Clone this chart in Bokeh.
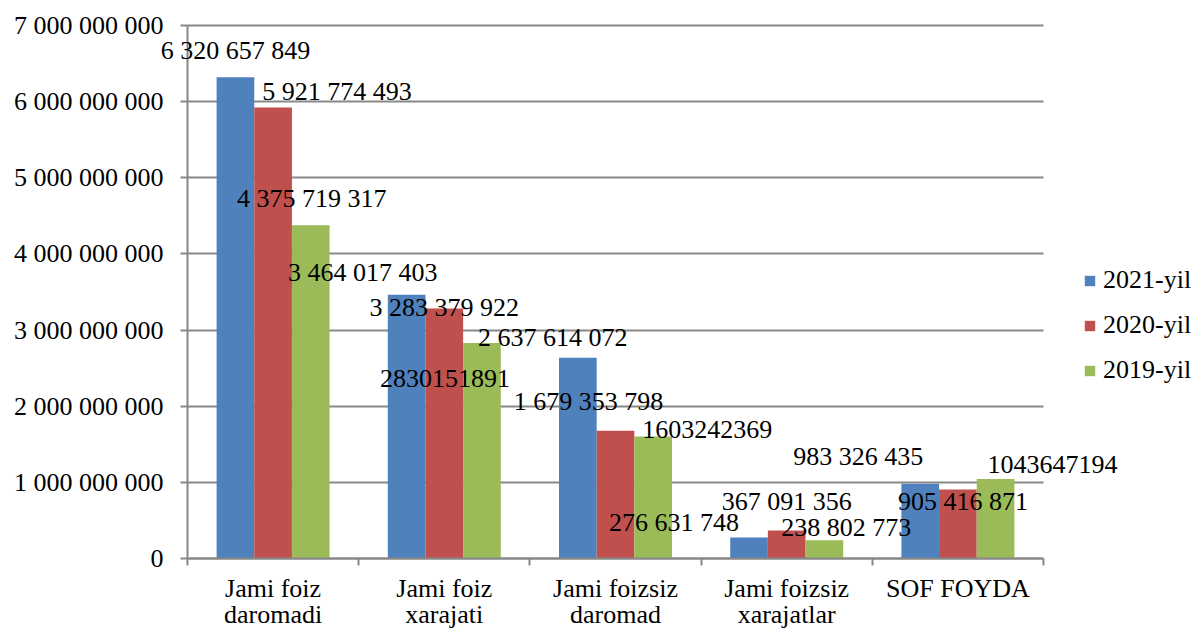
from bokeh.plotting import figure
from bokeh.models import (ColumnDataSource, FixedTicker, Range1d, LabelSet, Legend, LinearAxis)
from bokeh.transform import dodge
from bokeh.embed import file_html
from bokeh.resources import INLINE

# ---------------- data ----------------
categories = ["Jami foiz\ndaromadi", "Jami foiz\nxarajati", "Jami foizsiz\ndaromad",
              "Jami foizsiz\nxarajatlar", "SOF FOYDA"]
series_names = ["2021-yil", "2020-yil", "2019-yil"]
v2021 = [6320657849, 3464017403, 2637614072, 276631748, 983326435]
v2020 = [5921774493, 3283379922, 1679353798, 367091356, 905416871]
v2019 = [4375719317, 2830151891, 1603242369, 238802773, 1043647194]
t2021 = ["6 320 657 849", "3 464 017 403", "2 637 614 072", "276 631 748", "983 326 435"]
t2020 = ["5 921 774 493", "3 283 379 922", "1 679 353 798", "367 091 356", "905 416 871"]
t2019 = ["4 375 719 317", "2830151891", "1603242369", "238 802 773", "1043647194"]
y_ticks = [0, 1000000000, 2000000000, 3000000000, 4000000000, 5000000000, 6000000000, 7000000000]
y_tick_labels = ["0", "1 000 000 000", "2 000 000 000", "3 000 000 000", "4 000 000 000",
                 "5 000 000 000", "6 000 000 000", "7 000 000 000"]

# ---------------- styling / placement (not data) ----------------
colors = ["#4F81BD", "#C0504D", "#9BBB59"]
bar_offsets = [-0.22, 0.0, 0.22]
# pixel offsets of the (hand-placed) data labels, per series
label_dx = [[0, -44, -25, -75, -62],
            [64, 0, -27, 0, 5],
            [1, -37, 54, 22, 57]]
label_dy = [[27, 22, 20, 15, 27],
            [16, 1, 29, 29, -12],
            [27, -35, 7, 13, 15]]

FONT = "Liberation Serif"
FS = "26px"
GRID = "#888888"

# layout in pixels: visible plot area 187..1043 (x), 25..558 (y) on a 1195 x 630 canvas
W, H, PLOT_L, PLOT_R, PLOT_T, PLOT_B = 1195, 630, 187, 1043, 25, 558
n = len(categories)
cw = (PLOT_R - PLOT_L) / n
x_lo = -0.5 - PLOT_L / cw
x_hi = n - 0.5 + (W - PLOT_R) / cw
y_top = y_ticks[-1]
per_px = y_top / (PLOT_B - PLOT_T)
y_hi = PLOT_B * per_px
y_lo = -(H - PLOT_B) * per_px

idx = list(range(n))
values = [v2021, v2020, v2019]
texts = [t2021, t2020, t2019]

p = figure(frame_width=W, frame_height=H, output_backend="svg", toolbar_location=None,
           x_range=Range1d(x_lo, x_hi), y_range=Range1d(y_lo, y_hi),
           x_axis_location=None, y_axis_location=None,
           min_border_left=0, min_border_top=0, min_border_right=0, min_border_bottom=0)
p.outline_line_color = None
p.background_fill_color = "white"
p.border_fill_color = "white"

items = []
for s in range(3):
    src = ColumnDataSource(dict(idx=idx, top=values[s], text=texts[s],
                                dx=label_dx[s], dy=label_dy[s]))
    r = p.vbar(x=dodge("idx", bar_offsets[s]), top="top", bottom=0, width=0.22, source=src,
               fill_color=colors[s], line_color=None)
    items.append((series_names[s], [r]))
    lbl = LabelSet(x=dodge("idx", bar_offsets[s]), y="top", text="text", source=src,
                   x_offset="dx", y_offset="dy", text_align="center", text_baseline="middle",
                   text_font=FONT, text_font_size=FS, text_color="black")
    p.add_layout(lbl)

# x axis, fixed at y = 0
xax = LinearAxis(fixed_location=0, bounds=(-0.5, n - 0.5))
xax.ticker = FixedTicker(ticks=idx, minor_ticks=[i - 0.5 for i in range(n + 1)])
xax.major_label_overrides = {i: c for i, c in zip(idx, categories)}
xax.major_tick_line_color = None
xax.minor_tick_out = 7
xax.minor_tick_in = 0
xax.minor_tick_line_color = GRID
xax.minor_tick_line_width = 2
xax.axis_line_color = GRID
xax.axis_line_width = 2
xax.major_label_text_font = FONT
xax.major_label_text_font_size = FS
xax.major_label_text_color = "black"
xax.major_label_text_line_height = 0.93
xax.major_label_standoff = 8
p.add_layout(xax, "below")

# y axis, fixed at the left edge of the category area
yax = LinearAxis(fixed_location=-0.5, bounds=(0, y_top))
yax.ticker = FixedTicker(ticks=y_ticks, minor_ticks=[])
yax.major_label_overrides = {t: l for t, l in zip(y_ticks, y_tick_labels)}
yax.major_tick_out = 7
yax.major_tick_in = 0
yax.major_tick_line_color = GRID
yax.major_tick_line_width = 2
yax.minor_tick_line_color = None
yax.axis_line_color = GRID
yax.axis_line_width = 2
yax.major_label_text_font = FONT
yax.major_label_text_font_size = FS
yax.major_label_text_color = "black"
yax.major_label_standoff = 17
p.add_layout(yax, "left")

p.xgrid.grid_line_color = None
p.ygrid.grid_line_color = GRID
p.ygrid.grid_line_width = 2
p.ygrid.ticker = FixedTicker(ticks=y_ticks, minor_ticks=[])
p.ygrid.cross_bounds = (-0.5, n - 0.5)

# legend
lg = Legend(items=items, location=(1083, 173 + H - PLOT_B))
lg.label_text_font = FONT
lg.label_text_font_size = FS
lg.label_text_color = "black"
lg.glyph_width = 13
lg.glyph_height = 13
lg.label_standoff = 7
lg.spacing = 15
lg.padding = 0
lg.margin = 0
lg.border_line_color = None
lg.background_fill_alpha = 0
p.add_layout(lg)

open("out.html", "w").write(file_html(p, INLINE))
